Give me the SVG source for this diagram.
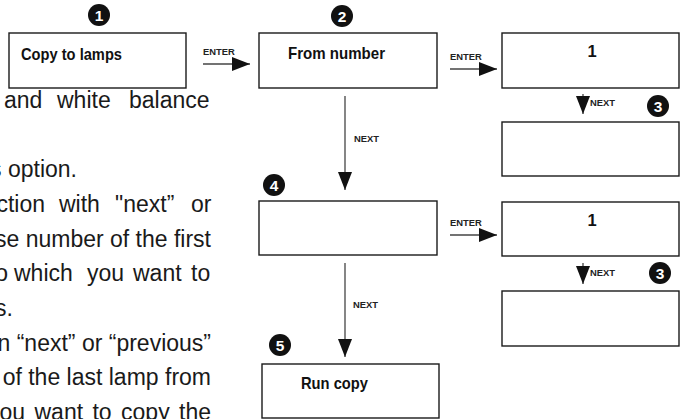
<svg xmlns="http://www.w3.org/2000/svg" width="680" height="419" viewBox="0 0 680 419">
  <defs>
    <style>
      .box { fill: #fff; stroke: #1a1a1a; stroke-width: 1.4; }
      .lbl { font-family: "Liberation Sans", Arial, sans-serif; font-weight: bold; font-size: 16.5px; fill: #111; }
      .tag { font-family: "Liberation Sans", Arial, sans-serif; font-weight: bold; font-size: 9.4px; fill: #222; }
      .body { font-family: "Liberation Sans", Arial, sans-serif; font-size: 23px; fill: #1a1a1a; }
      .wire { stroke: #444; stroke-width: 1.3; fill: none; marker-end: url(#head); }
      .badge circle { fill: #111; }
      .badge text { font-family: "Liberation Sans", Arial, sans-serif; font-weight: bold; font-size: 15.5px; fill: #fff; text-anchor: middle; }
    </style>
    <marker id="head" markerUnits="userSpaceOnUse" markerWidth="18" markerHeight="14" refX="18" refY="7" orient="auto">
      <path d="M0,0 L18,7 L0,14 Z" fill="#111"/>
    </marker>
  </defs>

  <!-- running text of the page, clipped at the left edge -->
  <g id="page-text" class="body">
    <text y="108"><tspan x="4">and</tspan><tspan x="57">white</tspan><tspan x="129">balance</tspan></text>
    <text x="77" y="177" text-anchor="end">s option.</text>
    <text y="212"><tspan x="45" text-anchor="end">ction</tspan><tspan x="59" text-anchor="start">with</tspan><tspan x="115">"next”</tspan><tspan x="191">or</tspan></text>
    <text x="211" y="247" text-anchor="end">se number of the first</text>
    <text y="281"><tspan x="8" text-anchor="end">o</tspan><tspan x="14" text-anchor="start">which</tspan><tspan x="87">you</tspan><tspan x="133">want</tspan><tspan x="191">to</tspan></text>
    <text x="13" y="316" text-anchor="end">s.</text>
    <text x="211" y="351" text-anchor="end">n “next” or “previous”</text>
    <text x="211" y="385" text-anchor="end">of the last lamp from</text>
    <text x="211" y="420" text-anchor="end" word-spacing="3">ou want to copy the</text>
  </g>

  <!-- connectors -->
  <g id="connectors">
    <path class="wire" d="M203,64 H250"/>
    <path class="wire" d="M450,69 H497"/>
    <path class="wire" d="M450,235 H497"/>
    <path class="wire" d="M345,96 V190"/>
    <path class="wire" d="M345,263 V357"/>
    <path class="wire" d="M583,94 V114"/>
    <path class="wire" d="M583,263 V284"/>
    <text class="tag" x="203" y="55">ENTER</text>
    <text class="tag" x="450" y="60">ENTER</text>
    <text class="tag" x="450" y="226">ENTER</text>
    <text class="tag" x="354" y="142">NEXT</text>
    <text class="tag" x="353" y="308">NEXT</text>
    <text class="tag" x="590" y="106">NEXT</text>
    <text class="tag" x="590" y="276">NEXT</text>
  </g>

  <!-- step 1 -->
  <g id="copy-to-lamps">
    <rect class="box" x="9" y="33" width="177" height="55"/>
    <text class="lbl" x="21" y="60" textLength="101" lengthAdjust="spacingAndGlyphs">Copy to lamps</text>
  </g>
  <g id="badge-1" class="badge"><circle cx="99" cy="15" r="11"/><text x="99" y="20.5">1</text></g>

  <!-- step 2 -->
  <g id="from-number">
    <rect class="box" x="259" y="33" width="178" height="55"/>
    <text class="lbl" x="288" y="59" textLength="97" lengthAdjust="spacingAndGlyphs">From number</text>
  </g>
  <g id="badge-2" class="badge"><circle cx="342" cy="16" r="11"/><text x="342" y="21.5">2</text></g>

  <!-- step 3, first lamp number -->
  <g id="from-value">
    <rect class="box" x="502" y="33" width="177" height="55"/>
    <text class="lbl" x="592" y="57" text-anchor="middle">1</text>
  </g>
  <g id="from-next">
    <rect class="box" x="502" y="122" width="177" height="54"/>
  </g>
  <g id="badge-3a" class="badge"><circle cx="658" cy="106" r="11"/><text x="658" y="111.5">3</text></g>

  <!-- step 4 -->
  <g id="to-number">
    <rect class="box" x="259" y="201" width="178" height="54"/>
  </g>
  <g id="badge-4" class="badge"><circle cx="274" cy="185" r="11"/><text x="274" y="190.5">4</text></g>

  <!-- step 3, last lamp number -->
  <g id="to-value">
    <rect class="box" x="502" y="202" width="177" height="54"/>
    <text class="lbl" x="592" y="226" text-anchor="middle">1</text>
  </g>
  <g id="to-next">
    <rect class="box" x="502" y="291" width="177" height="55"/>
  </g>
  <g id="badge-3b" class="badge"><circle cx="660" cy="273" r="11"/><text x="660" y="278.5">3</text></g>

  <!-- step 5 -->
  <g id="run-copy">
    <rect class="box" x="262" y="364" width="177" height="54"/>
    <text class="lbl" x="301" y="389" textLength="67" lengthAdjust="spacingAndGlyphs">Run copy</text>
  </g>
  <g id="badge-5" class="badge"><circle cx="280" cy="345" r="11"/><text x="280" y="350.5">5</text></g>
</svg>
